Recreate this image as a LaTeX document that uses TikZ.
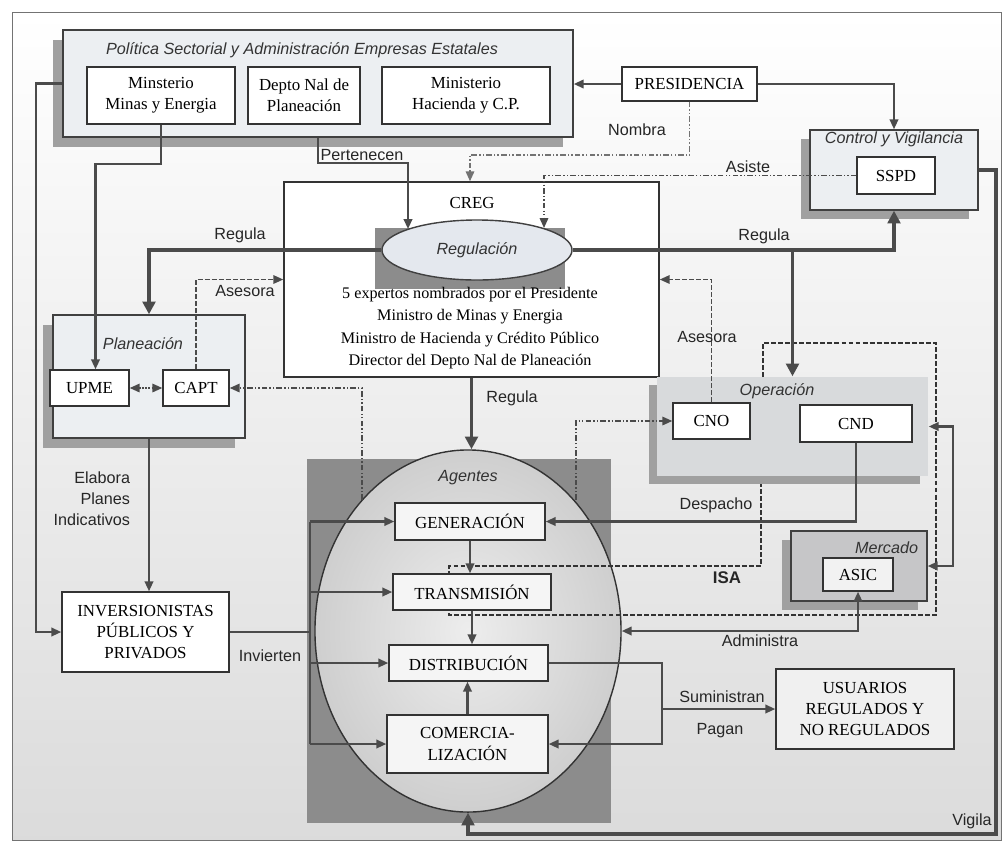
\documentclass[tikz,border=0pt]{standalone}
\usepackage{fontspec}
\setmainfont{Liberation Serif}
\setsansfont{Liberation Sans}
\usetikzlibrary{shapes.geometric, arrows.meta, positioning, calc, shadows}
\definecolor{linegray}{RGB}{75,75,75}
\definecolor{panelgray}{RGB}{236,239,242}
\definecolor{shadowgray}{RGB}{160,160,160}
\definecolor{darkpanel}{RGB}{140,140,140}
\definecolor{operfill}{RGB}{216,218,220}
\definecolor{mercfill}{RGB}{198,198,200}
\definecolor{regfill}{RGB}{228,232,238}
\tikzset{
  basebox/.style={rectangle, draw=black!80, line width=1pt, align=center, inner sep=1pt,
    font=\fontsize{12}{15}\selectfont},
  orgbox/.style={basebox, fill=white},
  agentbox/.style={basebox, fill=black!4},
  panelbox/.style={rectangle, draw=black!75, line width=1pt, fill=panelgray,
    general shadow={shadow xshift=-#1, shadow yshift=-#1, fill=shadowgray}},
  panelbox/.default=0.25cm,
  paneltitle/.style={font=\sffamily\itshape\fontsize{11.5}{13}\selectfont, text=black!80},
  lbl/.style={font=\sffamily\fontsize{11.5}{15}\selectfont, text=black!85},
  arrow/.style={-{Triangle[length=7pt,width=6pt]}, line width=1.5pt, color=linegray},
  arrowboth/.style={arrow, {Triangle[length=7pt,width=6pt]}-{Triangle[length=7pt,width=6pt]}},
  thickarrow/.style={-{Triangle[length=9pt,width=9pt]}, line width=2.8pt, color=linegray},
  dashedarrow/.style={arrow, line width=1.2pt, dash pattern=on 3.5pt off 1.5pt},
  dotarrow/.style={arrow, line width=1.2pt,
    dash pattern=on 4pt off 1.5pt on 1pt off 1.5pt on 1pt off 1.5pt}
}
\begin{document}
\begin{tikzpicture}[x=0.025cm, y=-0.025cm]
  \useasboundingbox (0,0) rectangle (1007,851);
  \fill[white] (0,0) rectangle (1007,851);
  \shade[top color=white, bottom color=black!14] (12,12) rectangle (1001,840);
  \draw[black!55, line width=0.6pt] (12,12) rectangle (1001,840);

  \node[panelbox, minimum width=12.75cm, minimum height=2.675cm] (pol) at (318,83.5) {};
  \node[paneltitle] (poltitle) at (302,50) {Política Sectorial y Administración Empresas Estatales};
  \node[orgbox, minimum width=3.7cm, minimum height=1.425cm] (minas) at (161,95.5) {Minsterio\\Minas y Energia};
  \node[orgbox, minimum width=2.8cm, minimum height=1.425cm] (dnp) at (304,95.5) {Depto Nal de\\Planeación};
  \node[orgbox, minimum width=4.2cm, minimum height=1.425cm] (hac) at (466,95.5) {Ministerio\\Hacienda y C.P.};
  \node[orgbox, minimum width=3.375cm, minimum height=0.85cm] (pres) at (689.5,84) {PRESIDENCIA};

  \node[panelbox=0.22cm, minimum width=4.2cm, minimum height=2cm] (ctrl) at (894,170) {};
  \node[paneltitle] (ctrltitle) at (894,139) {Control y Vigilancia};
  \node[orgbox, minimum width=1.95cm, minimum height=0.925cm] (sspd) at (896,175.5) {SSPD};

  \node[rectangle, draw=black!80, line width=1pt, fill=white, minimum width=9.375cm,
        minimum height=4.875cm] (creg) at (471.5,279.5) {};
  \fill[darkpanel] (375,228) rectangle (565,289);
  \node[ellipse, draw=black!75, line width=1pt, fill=regfill, minimum width=4.75cm,
        minimum height=1.5cm, font=\sffamily\itshape\fontsize{11.5}{13}\selectfont, text=black!80] (reg) at (477,250) {Regulación};
  \node[font=\fontsize{12}{14}\selectfont] (cregtitle) at (472,203) {CREG};
  \node[align=center, font=\fontsize{11.5}{15.8}\selectfont] (cregtext) at (470,328)
       {5 expertos nombrados por el Presidente\\Ministro de Minas y Energia\\
        Ministro de Hacienda y Crédito Público\\Director del Depto Nal de Planeación};

  \node[panelbox, minimum width=4.8cm, minimum height=3.075cm] (plan) at (149,376.5) {};
  \node[paneltitle] (plantitle) at (143,344) {Planeación};
  \node[orgbox, minimum width=1.975cm, minimum height=0.9cm] (upme) at (89.5,388) {UPME};
  \node[orgbox, minimum width=1.65cm, minimum height=0.9cm] (capt) at (196,388) {CAPT};

  \node[orgbox, minimum width=4.175cm, minimum height=2cm] (inv) at (145.5,632) {INVERSIONISTAS\\PÚBLICOS Y\\PRIVADOS};

  \node[panelbox=0.2cm, draw=none, fill=operfill, minimum width=6.775cm, minimum height=2.475cm] (oper) at (792.5,426.5) {};
  \node[paneltitle] (opertitle) at (777,391) {Operación};
  \node[orgbox, minimum width=1.925cm, minimum height=0.9cm] (cno) at (711.5,421) {CNO};
  \node[orgbox, minimum width=2.8cm, minimum height=0.925cm] (cnd) at (856,423.5) {CND};

  \node[panelbox=0.22cm, fill=mercfill, minimum width=3.4cm, minimum height=1.75cm] (merc) at (859,566) {};
  \node[paneltitle, anchor=east] (merctitle) at (923,548) {Mercado};
  \node[orgbox, fill=black!5, minimum width=1.75cm, minimum height=0.825cm] (asic) at (858,574.5) {ASIC};

  \fill[darkpanel] (307,459) rectangle (611,823);
  \node[ellipse, draw=black!80, line width=1pt, inner color=black!7, outer color=black!19,
        minimum width=7.65cm, minimum height=9.05cm] (ag) at (468,631) {};
  \node[paneltitle] (agtitle) at (468,478) {Agentes};
  \draw[black!80, line width=1.2pt, dash pattern=on 3.5pt off 1.5pt]
    (763,377) -- (763,343) -- (936,343) -- (936,615) -- (449,615) -- (449,566) -- (761,566) -- (761,484);
  \node[agentbox, minimum width=3.75cm, minimum height=0.925cm] (gen) at (470,521.5) {GENERACIÓN};
  \node[agentbox, minimum width=3.95cm, minimum height=0.9cm] (trans) at (472,592) {TRANSMISIÓN};
  \node[agentbox, minimum width=3.975cm, minimum height=0.9cm] (dist) at (468.5,663) {DISTRIBUCIÓN};
  \node[agentbox, minimum width=4.025cm, minimum height=1.45cm] (com) at (467.5,744) {COMERCIA-\\LIZACIÓN};

  \node[orgbox, fill=black!6, minimum width=4.45cm, minimum height=2cm] (usu) at (865,709) {USUARIOS\\REGULADOS Y\\NO REGULADOS};

  \draw[arrow] (pres.west) -- (pres.west -| pol.east);
  \draw[arrow] (pres.east) -| (ctrl.north);
  \coordinate (nomb) at (470,155);
  \draw[dotarrow, color=black!55] (pres.south) |- (nomb) -- (nomb |- creg.north);
  \draw[dotarrow] (sspd.west) -| ($(reg.center)+(67,-22)$);
  \draw[arrow] (pol.south) |- ($(reg.center)+(-69,-87)$) -- ($(reg.center)+(-69,-21)$);
  \draw[arrow] (minas.south) -- ++(0,39) -| ($(upme.north)+(6,0)$);
  \draw[arrow] (pol.west) -- ++(-26,0) |- (inv.west);
  \draw[thickarrow] (reg.west) -| (plan.north);
  \draw[thickarrow] (reg.east) -| (ctrl.south);
  \draw[thickarrow] (oper.north |- reg.east) -- (oper.north);
  \draw[thickarrow] (creg.south) -- (creg.south |- ag.north);
  \draw[dashedarrow] (capt.north) |- (creg.west);
  \draw[dashedarrow] (cno.north) |- (creg.east);
  \draw[arrowboth, line width=1.2pt, densely dotted] (upme.east) -- (capt.west);
  \draw[dotarrow] ($(ag.center)+(-106,-131)$) |- (capt.east);
  \draw[dotarrow] ($(ag.center)+(108,-131)$) |- (cno.west);
  \draw[arrow] (plan.south) -- (plan.south |- inv.north);

  \coordinate (bus) at (310,632);
  \draw[arrow, -] (inv.east) -- (bus);
  \draw[arrow, -] (bus |- gen.west) -- (bus |- com.west);
  \foreach \ag in {gen,trans,dist,com}
    \draw[arrow] (bus |- \ag.west) -- (\ag.west);
  \draw[arrow] (gen.south) -- (gen.south |- trans.north);
  \draw[arrow] (trans.south) -- (trans.south |- dist.north);
  \draw[arrow] (com.north) -- (com.north |- dist.south);

  \draw[arrow] (cnd.south) |- (gen.east);
  \draw[arrowboth] (oper.east) -- ++(24,0) |- (merc.east);
  \draw[arrowboth] (asic.south) |- (ag.east);
  \coordinate (sum) at (662,709);
  \draw[arrow] (dist.east) -| (sum) |- (com.east);
  \draw[arrow] (sum) -- (usu.west);
  \coordinate (vig) at (996,834);
  \draw[thickarrow, line width=2.4pt] (ctrl.east) -| (vig) -| (ag.south);

  \node[lbl] (lnombra) at (637,130) {Nombra};
  \node[lbl] (lasiste) at (748,167) {Asiste};
  \node[lbl] (lpert) at (362,155) {Pertenecen};
  \node[lbl] (lrega) at (240,235) {Regula};
  \node[lbl] (lregb) at (764,236) {Regula};
  \node[lbl] (lregc) at (512,398) {Regula};
  \node[lbl] (lasesa) at (245,291) {Asesora};
  \node[lbl] (lasesb) at (707,337) {Asesora};
  \node[lbl, align=right, anchor=east] (lelab) at (135,499) {Elabora\\Planes\\Indicativos};
  \node[lbl] (linv) at (270,656) {Invierten};
  \node[lbl] (ldesp) at (716,505) {Despacho};
  \node[lbl, font=\sffamily\bfseries\fontsize{12}{13}\selectfont] (lisa) at (727,578) {ISA};
  \node[lbl] (ladmin) at (760,641) {Administra};
  \node[lbl] (lsum) at (722,697) {Suministran};
  \node[lbl] (lpag) at (720,731) {Pagan};
  \node[lbl] (lvig) at (972,821) {Vigila};
\end{tikzpicture}
\end{document}
